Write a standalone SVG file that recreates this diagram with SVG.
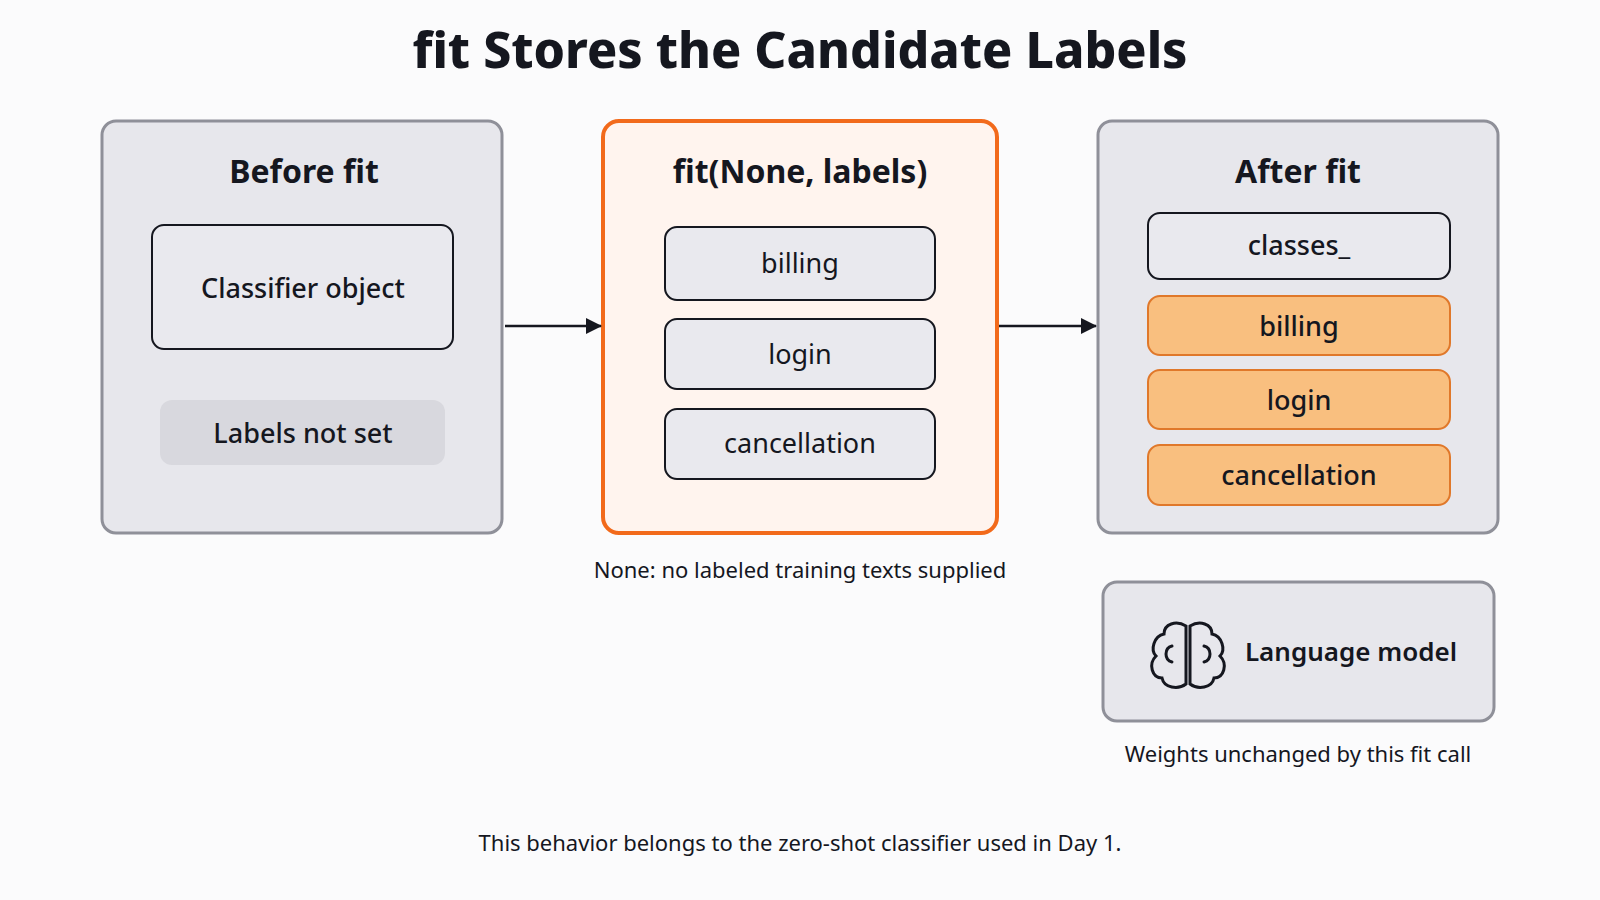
<svg xmlns="http://www.w3.org/2000/svg" width="1600" height="900" viewBox="0 0 1600 900">
<defs>
<style>
text{font-family:"Noto Sans","Liberation Sans",sans-serif;fill:#15171f;text-anchor:middle}
.panel{fill:#e7e7ec;stroke:#8f9099;stroke-width:3}
.box{fill:#e9e9ee;stroke:#15171f;stroke-width:2}
.or{fill:#f9bf7f;stroke:#e0782a;stroke-width:2}
.h{font-size:32px;font-weight:700}
.t{font-size:27px}
.s{font-size:22px}
</style>
<marker id="ar" markerWidth="16" markerHeight="16" refX="15" refY="8" orient="auto" markerUnits="userSpaceOnUse" viewBox="0 0 16 16"><path d="M0,0 L16,8 L0,16 z" fill="#15171f"/></marker>
</defs>
<rect width="1600" height="900" fill="#fbfbfc"/>
<text x="800" y="68" font-size="50" font-weight="800">fit Stores the Candidate Labels</text>
<g id="before">
<rect class="panel" x="102" y="121" width="400" height="412" rx="14"/>
<text class="h" x="304" y="183">Before fit</text>
<rect class="box" x="152" y="225" width="301" height="124" rx="12"/>
<text class="t" x="303" y="298" font-weight="500">Classifier object</text>
<rect x="160" y="400" width="285" height="65" rx="12" fill="#d8d8de"/>
<text class="t" x="303" y="443" font-weight="500">Labels not set</text>
</g>
<g id="fit">
<rect x="603" y="121" width="394" height="412" rx="16" fill="#fff4ee" stroke="#f26a1b" stroke-width="4"/>
<text class="h" x="800" y="183" font-weight="600">fit(None, labels)</text>
<rect class="box" x="665" y="227" width="270" height="73" rx="12"/>
<text class="t" x="800" y="273">billing</text>
<rect class="box" x="665" y="319" width="270" height="70" rx="12"/>
<text class="t" x="800" y="364">login</text>
<rect class="box" x="665" y="409" width="270" height="70" rx="12"/>
<text class="t" x="800" y="453">cancellation</text>
<text class="s" x="800" y="578">None: no labeled training texts supplied</text>
</g>
<g id="after">
<rect class="panel" x="1098" y="121" width="400" height="412" rx="14"/>
<text class="h" x="1298" y="183">After fit</text>
<rect class="box" x="1148" y="213" width="302" height="66" rx="12"/>
<text class="t" x="1299" y="255" font-weight="500">classes_</text>
<rect class="or" x="1148" y="296" width="302" height="59" rx="12"/>
<text class="t" x="1299" y="336" font-weight="500">billing</text>
<rect class="or" x="1148" y="370" width="302" height="59" rx="12"/>
<text class="t" x="1299" y="410" font-weight="500">login</text>
<rect class="or" x="1148" y="445" width="302" height="60" rx="12"/>
<text class="t" x="1299" y="485" font-weight="500">cancellation</text>
</g>
<g id="lm">
<rect class="panel" x="1103" y="582" width="391" height="139" rx="14"/>
<g fill="none" stroke="#15171f" stroke-width="3" stroke-linecap="round">
<path d="M1186,626 C1176,620 1164,624 1164,634 C1154,636 1150,650 1156,656 C1148,664 1152,678 1162,678 C1164,688 1178,690 1186,684 Z"/>
<path d="M1190,626 C1200,620 1212,624 1212,634 C1222,636 1226,650 1220,656 C1228,664 1224,678 1214,678 C1212,688 1198,690 1190,684 Z"/>
<path d="M1172,646 C1164,648 1164,660 1172,662"/>
<path d="M1204,646 C1212,648 1212,660 1204,662"/>
</g>
<text x="1351" y="661" font-size="26" font-weight="600">Language model</text>
<text class="s" x="1298" y="762">Weights unchanged by this fit call</text>
</g>
<g id="connectors" stroke="#15171f" stroke-width="2.5" fill="none">
<line x1="505" y1="326" x2="601" y2="326" marker-end="url(#ar)"/>
<line x1="999" y1="326" x2="1096" y2="326" marker-end="url(#ar)"/>
</g>
<text class="s" x="800" y="851">This behavior belongs to the zero-shot classifier used in Day 1.</text>
</svg>
